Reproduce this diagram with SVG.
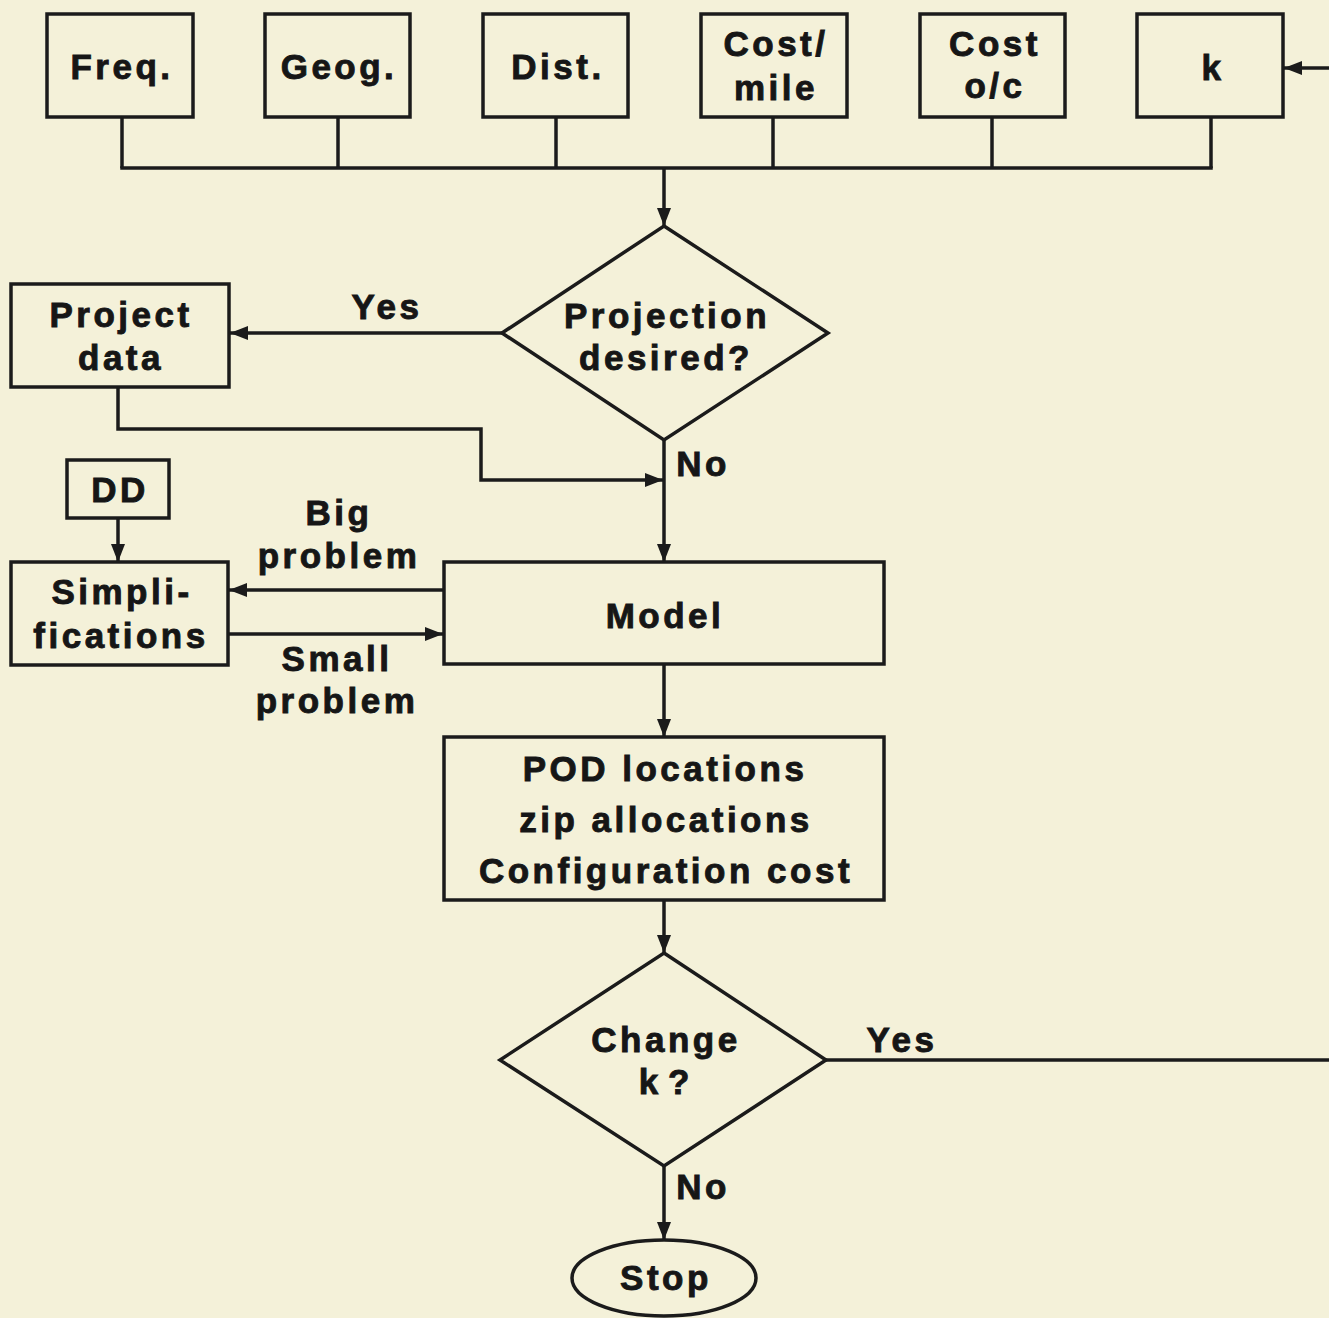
<svg xmlns="http://www.w3.org/2000/svg" width="1329" height="1318" viewBox="0 0 1329 1318">
<defs>
<style>
.n{fill:none;stroke:#1b1b1b;stroke-width:3.5}
.c{fill:none;stroke:#1b1b1b;stroke-width:3.5}
.a{marker-end:url(#ah)}
text{font-family:"Liberation Sans",Arial,sans-serif;font-weight:bold;font-size:35px;letter-spacing:3.5px;fill:#161616;stroke:#161616;stroke-width:0.9;text-anchor:middle}
</style>
<marker id="ah" viewBox="0 0 18 14" refX="18" refY="7" markerWidth="18" markerHeight="14" markerUnits="userSpaceOnUse" orient="auto">
<path d="M0,0 L18,7 L0,14 z" fill="#1b1b1b"/>
</marker>
</defs>
<rect width="1329" height="1318" fill="#f4f1d9"/>
<g id="connectors">
<line class="c" x1="122" y1="117" x2="122" y2="168"/>
<line class="c" x1="338" y1="117" x2="338" y2="168"/>
<line class="c" x1="556" y1="117" x2="556" y2="168"/>
<line class="c" x1="773" y1="117" x2="773" y2="168"/>
<line class="c" x1="992" y1="117" x2="992" y2="168"/>
<line class="c" x1="1211" y1="117" x2="1211" y2="168"/>
<line class="c" x1="120.25" y1="168" x2="1212.75" y2="168"/>
<line class="c a" x1="664" y1="168" x2="664" y2="226"/>
<line class="c a" x1="1329" y1="68" x2="1284" y2="68"/>
<line class="c a" x1="502" y1="333" x2="230" y2="333"/>
<polyline class="c a" points="118,387 118,429 481,429 481,480 663,480"/>
<line class="c a" x1="664" y1="440" x2="664" y2="562"/>
<line class="c a" x1="118" y1="518" x2="118" y2="562"/>
<line class="c a" x1="444" y1="590" x2="229" y2="590"/>
<line class="c a" x1="228" y1="634" x2="443" y2="634"/>
<line class="c a" x1="664" y1="664" x2="664" y2="737"/>
<line class="c a" x1="664" y1="900" x2="664" y2="953"/>
<line class="c" x1="826" y1="1060" x2="1329" y2="1060"/>
<line class="c a" x1="664" y1="1166" x2="664" y2="1240"/>
<text x="387" y="319">Yes</text>
<text x="703" y="476">No</text>
<text x="339" y="525">Big</text>
<text x="339" y="568">problem</text>
<text x="337" y="671">Small</text>
<text x="337" y="713">problem</text>
<text x="902" y="1052">Yes</text>
<text x="703" y="1199">No</text>
</g>
<g id="freq"><rect class="n" x="47" y="14" width="146" height="103"/><text x="122" y="79">Freq.</text></g>
<g id="geog"><rect class="n" x="265" y="14" width="145" height="103"/><text x="339" y="79">Geog.</text></g>
<g id="dist"><rect class="n" x="483" y="14" width="145" height="103"/><text x="558" y="79">Dist.</text></g>
<g id="costmile"><rect class="n" x="701" y="14" width="146" height="103"/><text x="776" y="56">Cost/</text><text x="776" y="100">mile</text></g>
<g id="costoc"><rect class="n" x="920" y="14" width="145" height="103"/><text x="995" y="56">Cost</text><text x="995" y="98">o/c</text></g>
<g id="k"><rect class="n" x="1137" y="14" width="146" height="103"/><text x="1213" y="80">k</text></g>
<g id="projection"><polygon class="n" points="664,226 828,333 664,440 502,333"/><text x="667" y="328">Projection</text><text x="666" y="370">desired?</text></g>
<g id="projectdata"><rect class="n" x="11" y="284" width="218" height="103"/><text x="121" y="327">Project</text><text x="121" y="370">data</text></g>
<g id="dd"><rect class="n" x="67" y="460" width="102" height="58"/><text x="120" y="502">DD</text></g>
<g id="simplifications"><rect class="n" x="11" y="562" width="217" height="103"/><text x="122" y="604">Simpli-</text><text x="121" y="648">fications</text></g>
<g id="model"><rect class="n" x="444" y="562" width="440" height="102"/><text x="665" y="628">Model</text></g>
<g id="pod"><rect class="n" x="444" y="737" width="440" height="163"/><text x="665" y="781">POD locations</text><text x="666" y="832">zip allocations</text><text x="666" y="883">Configuration cost</text></g>
<g id="changek"><polygon class="n" points="664,953 826,1060 664,1166 500,1060"/><text x="666" y="1052">Change</text><text x="664" y="1094" style="letter-spacing:0">k ?</text></g>
<g id="stop"><ellipse class="n" cx="664" cy="1278" rx="92" ry="38"/><text x="666" y="1290">Stop</text></g>
</svg>
